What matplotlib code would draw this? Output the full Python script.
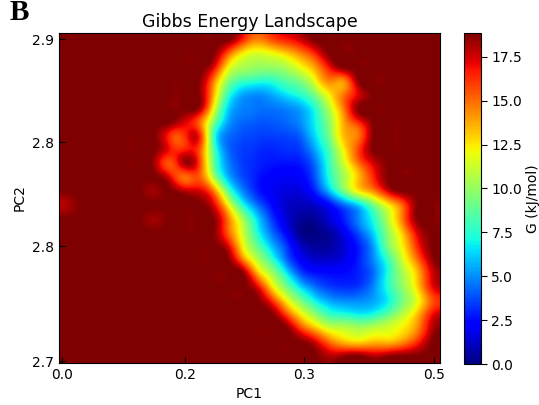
import numpy as np
import matplotlib
matplotlib.use("Agg")
import matplotlib.pyplot as plt
from matplotlib.ticker import FixedLocator, FormatStrFormatter

# Free energy surface on a 26 x 24 grid (kJ/mol); empty bins carry the maximum.
G_MAX = 18.85
N_COLS, N_ROWS = 26, 24

# Each row (top to bottom): first populated column and the G values from there on.
rows = [
    (12, [16.5, 14.5, 15.5, 16.5, 17.5]),
    (11, [15.5, 12.5, 11.5, 12, 13, 14.5, 16.5]),
    (10, [17.5, 12.5, 10.5, 10, 10, 10.5, 12, 14, 17]),
    (10, [15, 10, 8, 7.5, 7.5, 8.5, 9.5, 12, 14.5, 14.5]),
    (10, [14, 8, 5.5, 5, 5.5, 6.5, 7.5, 9.5, 12.5, 15, 17.5]),
    (9, [18.5, 12.5, 6.5, 4.8, 4.5, 4.5, 4.8, 5.5, 7.5, 11, 15]),
    (8, [17.5, 15.5, 10, 5.5, 4.3, 4, 4, 4.3, 5, 7, 10, 14, 16.5]),
    (7, [16.5, 16, 17, 8.5, 4.5, 3.8, 3.6, 3.5, 3.6, 4.2, 6.5, 9.5, 13.5, 15]),
    (7, [17, 16.5, 16, 9, 4.5, 3.5, 3.2, 3, 3.2, 3.5, 5.5, 8.5, 12.5, 16]),
    (6, [18.3, 15.5, 18, 16.5, 9.5, 5, 3.5, 3, 2.7, 2.6, 2.8, 4.5, 8, 11.5, 15, 17.5]),
    (7, [17.5, 15, 15.5, 11, 6, 3.8, 2.8, 2.2, 2, 2.2, 4, 7.5, 10.5, 13.5, 16.5]),
    (8, [18, 17.5, 15, 9, 5, 3, 2, 1.6, 1.6, 3, 6, 9.5, 12.5, 14.5, 17.5]),
    (10, [17.5, 12.5, 7.5, 4.5, 2.5, 1.3, 1.0, 1.3, 2.5, 4.5, 6.5, 9.5, 12.5, 15.5]),
    (11, [15, 10.5, 6.5, 3.5, 1.5, 0.5, 0.5, 1.5, 3, 5, 7.5, 11, 15]),
    (11, [15.5, 11.5, 7.5, 4.5, 2.2, 0.3, 0.1, 0.6, 2, 4, 6.5, 10, 13.5, 17.5]),
    (11, [17.5, 12.5, 9, 6, 3.5, 1.2, 0.5, 0.6, 1.5, 3, 5.5, 9.5, 12.5, 16.5]),
    (12, [15, 11, 8, 4.5, 2.2, 1.3, 1.3, 1.8, 3, 5, 8, 11.5, 15, 18.5]),
    (13, [14, 10.5, 7, 3.8, 2.7, 2.5, 2.5, 3, 4.5, 7.5, 10.5, 13.5, 17.5]),
    (13, [17.5, 13, 9.5, 6.5, 4.5, 3.5, 3.2, 3.5, 5, 7.5, 10, 13, 17]),
    (14, [16.5, 12.5, 9.5, 7, 5.5, 5, 5, 5.5, 7, 9.5, 12, 15.5]),
    (15, [16, 12.5, 10, 8, 7.5, 7, 7.5, 9, 11, 13.5, 17]),
    (16, [16, 13.5, 11.5, 11, 10.5, 11, 11.5, 12.5, 14.5, 18]),
    (17, [17.5, 15, 13.5, 13, 13.5, 13.5, 14.5, 16.5]),
    (18, [18, 18.5, G_MAX, 18, 18.5]),
]

# Isolated sparsely sampled bins: (row, column, G)
spots = [(11, 6, 18.3), (12, 0, 18.0), (13, 6, 18.3)]

# PC ranges covered by the grid
pc1_range = (-0.00403, 0.50806)
pc2_range = (2.69876, 2.90373)

pc1_ticks = [0.0, 0.1653, 0.3253, 0.5]
pc2_ticks = [2.7, 2.7714, 2.8360, 2.9]
cbar_ticks = [0.0, 2.5, 5.0, 7.5, 10.0, 12.5, 15.0, 17.5]

energy = np.full((N_ROWS, N_COLS), G_MAX)
for r, (c0, vals) in enumerate(rows):
    energy[r, c0:c0 + len(vals)] = vals
for r, c, v in spots:
    energy[r, c] = v

fig = plt.figure(figsize=(5.39, 4.05), dpi=100)
ax = fig.add_axes([59 / 539, 1 - 363 / 405, 381 / 539, 330 / 405])
cax = fig.add_axes([464 / 539, 1 - 364 / 405, 17 / 539, 331 / 405])

im = ax.imshow(energy, cmap="jet", vmin=0.0, vmax=G_MAX, origin="upper",
               extent=(pc1_range[0], pc1_range[1], pc2_range[0], pc2_range[1]),
               aspect="auto", interpolation="lanczos")
ax.set_xlim(*pc1_range)
ax.set_ylim(*pc2_range)

ax.xaxis.set_major_locator(FixedLocator(pc1_ticks))
ax.yaxis.set_major_locator(FixedLocator(pc2_ticks))
ax.xaxis.set_major_formatter(FormatStrFormatter("%.1f"))
ax.yaxis.set_major_formatter(FormatStrFormatter("%.1f"))
ax.tick_params(direction="in", length=4, labelsize=10)

ax.set_xlabel("PC1", fontsize=10)
ax.set_ylabel("PC2", fontsize=10)
ax.set_title("Gibbs Energy Landscape", fontsize=12.5, pad=4.5)

cb = fig.colorbar(im, cax=cax)
cb.set_ticks(cbar_ticks)
cb.ax.yaxis.set_major_formatter(FormatStrFormatter("%.1f"))
cb.ax.tick_params(labelsize=10, length=4)
cb.set_label("G (kJ/mol)", fontsize=10, labelpad=3)

fig.text(10 / 539, 1 - 19.5 / 405, "B", fontsize=21, fontweight="bold",
         family="Liberation Serif", va="baseline", ha="left")

fig.savefig("out.png", dpi=100)
